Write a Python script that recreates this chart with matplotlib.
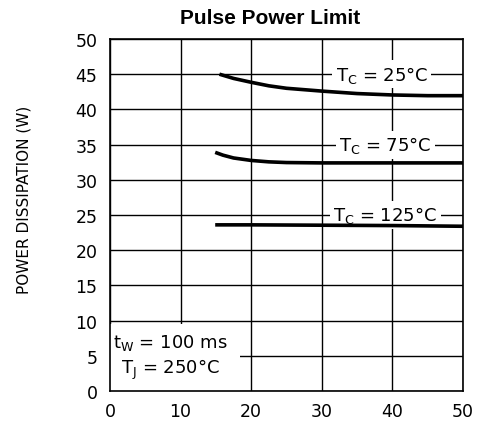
import matplotlib
matplotlib.use("Agg")
import matplotlib.pyplot as plt

# pulse width (ms) vs allowed power dissipation (W) per case temperature
x_25 = [15.5, 17.5, 20, 22.5, 25, 30, 35, 40, 45, 50]
y_25 = [45.0, 44.4, 43.85, 43.35, 43.0, 42.6, 42.25, 42.05, 41.95, 41.95]

x_75 = [14.9, 16, 17.5, 20, 22.5, 25, 30, 40, 50]
y_75 = [33.9, 33.5, 33.1, 32.75, 32.55, 32.45, 32.4, 32.4, 32.4]

x_125 = [14.9, 20, 30, 40, 50]
y_125 = [23.6, 23.6, 23.55, 23.5, 23.4]

x_ticks = [0, 10, 20, 30, 40, 50]
y_ticks = [0, 5, 10, 15, 20, 25, 30, 35, 40, 45, 50]

fig = plt.figure(figsize=(4.78, 4.27), dpi=100)
ax = fig.add_axes([110 / 478, 1 - 392 / 427, 353 / 478, 352 / 427])

ax.set_xlim(0, 50)
ax.set_ylim(0, 50)
ax.set_xticks(x_ticks)
ax.set_yticks(y_ticks)
ax.tick_params(length=0, labelsize=12.5)
ax.tick_params(axis="y", pad=9)
ax.tick_params(axis="x", pad=8)
ax.grid(True, color="black", linewidth=1.0)
for s in ax.spines.values():
    s.set_linewidth(1.2)

for xs, ys in [(x_25, y_25), (x_75, y_75), (x_125, y_125)]:
    ax.plot(xs, ys, color="black", linewidth=2.6, solid_capstyle="butt", zorder=3)

box = dict(facecolor="white", edgecolor="none", pad=2.5)
lbl = dict(ha="center", va="center", fontsize=13, bbox=box, zorder=2)
ax.text(38.5, 45, r"T$_\mathregular{C}$ = 25°C", **lbl)
ax.text(39.0, 35, r"T$_\mathregular{C}$ = 75°C", **lbl)
ax.text(39.0, 25, r"T$_\mathregular{C}$ = 125°C", **lbl)

ax.text(8.6, 4.9, "t$_\\mathregular{W}$ = 100 ms\nT$_\\mathregular{J}$ = 250°C",
        ha="center", va="center", fontsize=13, linespacing=1.25,
        bbox=dict(facecolor="white", edgecolor="none", pad=8.5), zorder=2)

fig.text(270 / 478, 1 - 19 / 427, "Pulse Power Limit", ha="center", va="center",
         fontsize=15, fontweight="bold", family="Liberation Sans")
fig.text(24 / 478, 1 - 200 / 427, "POWER DISSIPATION (W)", rotation=90,
         ha="center", va="center", fontsize=11)

fig.savefig("out.png", dpi=100)
